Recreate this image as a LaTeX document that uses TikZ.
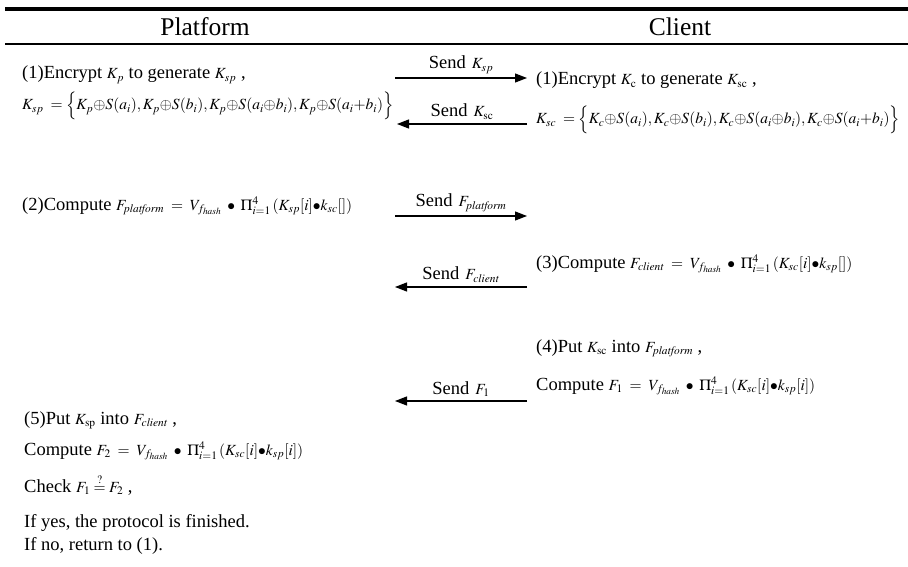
\documentclass[tikz,border=0pt]{standalone}
\usepackage{amsmath}
\usepackage{mathptmx}
\usepackage[no-math]{fontspec}
\setmainfont{Liberation Serif}
\usetikzlibrary{arrows.meta}
\usetikzlibrary{positioning}
\tikzset{step text/.style = {anchor = base west, inner sep = 0, font = \fontsize{18.5}{22}\selectfont}}
\tikzset{msg/.style = {line width = 1.2pt, -{Triangle[length = 12pt, width = 9pt]}}}
\tikzset{msg label/.style = {above = 4pt, inner sep = 0, font = \fontsize{18.5}{22}\selectfont}}
\newcommand{\mt}[1]{{\fontsize{15.5}{18}\selectfont$#1$}}
\newcommand{\vhash}{V_{f_{\mathit{hash}}}\;\bullet\;}

\begin{document}
\begin{tikzpicture}[x = 1pt, y = -1pt]
      \useasboundingbox (0, 0) rectangle (908, 567);

      \coordinate (topL) at (5, 9);
      \coordinate (topR) at (908, 9);
      \draw [line width = 3.5pt] (topL) -- (topR);
      \coordinate (midL) at (5, 44);
      \coordinate (midR) at (908, 44);
      \draw [line width = 1.8pt] (midL) -- (midR);

      \node [font = \fontsize{25.5}{28}\selectfont] (platform) at (205, 27) {Platform};
      \node [font = \fontsize{25.5}{28}\selectfont] (client) at (680, 27) {Client};

      % step (1)
      \node [step text] (p1) at (22, 79) {(1)Encrypt \mt{K_p} to generate \mt{K_{sp}} ,};
      \node [step text] (p1eq) at (22, 110)
        {\mt{K_{sp}\;=\Big\{K_p{\oplus}S(a_i),K_p{\oplus}S(b_i),K_p{\oplus}S(a_i{\oplus}b_i),K_p{\oplus}S(a_i{+}b_i)\Big\}}};
      \node [step text] (c1) at (536, 85) {(1)Encrypt \mt{K_{\mathrm{c}}} to generate \mt{K_{\mathrm{sc}}} ,};
      \node [step text] (c1eq) at (536, 124)
        {\mt{K_{sc}\;=\Big\{K_c{\oplus}S(a_i),K_c{\oplus}S(b_i),K_c{\oplus}S(a_i{\oplus}b_i),K_c{\oplus}S(a_i{+}b_i)\Big\}}};

      % step (2)
      \node [step text] (p2) at (22, 210)
        {(2)Compute \mt{F_{\mathit{platform}}\;=\;\vhash\Pi_{i=1}^4\,(K_{sp}[i]{\bullet}k_{sc}[])}};

      % step (3)
      \node [step text] (c3) at (536, 268)
        {(3)Compute \mt{F_{\mathit{client}}\;=\;\vhash\Pi_{i=1}^4\,(K_{sc}[i]{\bullet}k_{sp}[])}};

      % step (4)
      \node [step text] (c4) at (536, 352) {(4)Put \mt{K_{\mathrm{sc}}} into \mt{F_{\mathit{platform}}} ,};
      \node [step text] (c4eq) at (536, 390)
        {Compute \mt{F_1\;=\;\vhash\Pi_{i=1}^4\,(K_{sc}[i]{\bullet}k_{sp}[i])}};

      % step (5)
      \node [step text] (p5) at (24, 424) {(5)Put \mt{K_{\mathrm{sp}}} into \mt{F_{\mathit{client}}} ,};
      \node [step text] (p5eq) at (24, 455)
        {Compute \mt{F_2\;=\;\vhash\Pi_{i=1}^4\,(K_{sc}[i]{\bullet}k_{sp}[i])}};
      \node [step text] (p5chk) at (24, 492) {Check \mt{F_1\overset{?}{=}F_2} ,};
      \node [step text] (p5yes) at (24, 527) {If yes, the protocol is finished.};
      \node [step text] (p5no) at (24, 550) {If no, return to (1).};

      % messages
      \coordinate (kspL) at (395, 78);
      \coordinate (kspR) at (527, 78);
      \draw [msg] (kspL) -- node [msg label] {Send\hspace{6pt}\mt{K_{sp}}} (kspR);

      \coordinate (kscL) at (397, 124);
      \coordinate (kscR) at (527, 124);
      \draw [msg] (kscR) -- node [msg label] {Send\hspace{6pt}\mt{K_{\mathrm{sc}}}} (kscL);

      \coordinate (fpL) at (395, 216);
      \coordinate (fpR) at (527, 216);
      \draw [msg] (fpL) -- node [msg label] {Send\hspace{6pt}\mt{F_{\mathit{platform}}}} (fpR);

      \coordinate (fcL) at (395, 287);
      \coordinate (fcR) at (527, 287);
      \draw [msg] (fcR) -- node [msg label] {Send\hspace{6pt}\mt{F_{\mathit{client}}}} (fcL);

      \coordinate (f1L) at (395, 401);
      \coordinate (f1R) at (527, 401);
      \draw [msg] (f1R) -- node [msg label] {Send\hspace{6pt}\mt{F_1}} (f1L);
    \end{tikzpicture}
\end{document}
